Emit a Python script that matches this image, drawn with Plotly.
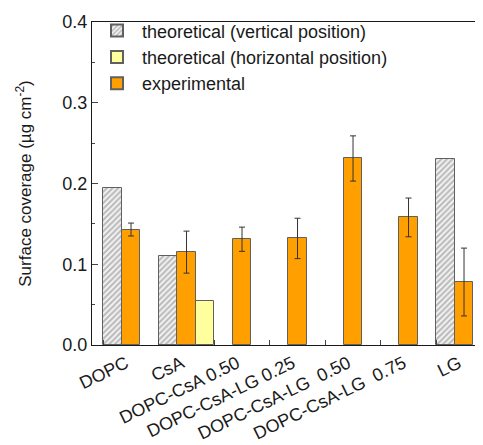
import plotly.graph_objects as go

categories = ["DOPC", "CsA", "DOPC-CsA 0.50", "DOPC-CsA-LG 0.25",
              "DOPC-CsA-LG\u00a0\u00a00.50", "DOPC-CsA-LG\u00a0\u00a00.75", "LG"]
theor_vertical = [0.195, 0.110, None, None, None, None, 0.230]
experimental = [0.143, 0.115, 0.131, 0.132, 0.231, 0.158, 0.078]
experimental_err = [0.008, 0.026, 0.015, 0.025, 0.028, 0.024, 0.042]
theor_horizontal = [None, 0.054, None, None, None, None, None]
y_ticks = [0.0, 0.1, 0.2, 0.3, 0.4]

FONT = "Liberation Sans, Arial, sans-serif"
outline = dict(color="#606060", width=1)

fig = go.Figure()
fig.add_trace(go.Bar(
    x=categories, y=theor_vertical, name="theoretical (vertical position)",
    marker=dict(color="#ffffff", line=outline,
                pattern=dict(shape="/", fgcolor="#808080", bgcolor="#f8f8f8",
                             size=4, solidity=0.55)),
    legendrank=1,
))
fig.add_trace(go.Bar(
    x=categories, y=experimental, name="experimental",
    marker=dict(color="#FF9F00", line=outline),
    error_y=dict(type="data", array=experimental_err, color="#333333",
                 thickness=1, width=3),
    legendrank=3,
))
fig.add_trace(go.Bar(
    x=categories, y=theor_horizontal, name="theoretical (horizontal position)",
    marker=dict(color="#FFFF9E", line=outline),
    legendrank=2,
))

# the page body adds an 8px margin, so the figure is sized to fit the window
fig.update_layout(
    width=475, height=437,
    margin=dict(l=84, r=0, t=14, b=100, autoexpand=False),
    barmode="group", bargap=0, bargroupgap=0,
    plot_bgcolor="white", paper_bgcolor="white",
    font=dict(family=FONT, size=15, color="#1a1a1a"),
    showlegend=True,
    legend=dict(x=0.0, y=1.03, xanchor="left", yanchor="top",
                traceorder="normal", bgcolor="rgba(0,0,0,0)",
                font=dict(size=18), itemwidth=40, tracegroupgap=0,
                itemsizing="constant"),
)
fig.update_xaxes(
    range=[-0.703, 6.342], showline=True, linecolor="#1a1a1a", linewidth=1.2,
    mirror=True, ticks="inside", ticklen=5, tickson="boundaries",
    tickangle=-26, tickfont=dict(size=18), ticklabelshift=-5,
    showgrid=False, automargin=False,
)
fig.update_yaxes(
    range=[0, 0.4], tickvals=y_ticks, tickformat=".1f",
    showline=True, linecolor="#1a1a1a", linewidth=1.2, mirror=False,
    ticks="inside", ticklen=6, tickfont=dict(size=18),
    minor=dict(ticks="inside", ticklen=3, dtick=0.05, tick0=0),
    showgrid=False, zeroline=False, automargin=False,
    title=dict(text="Surface coverage (\u00b5g cm<sup>-2</sup>)",
               font=dict(size=17), standoff=26),
)

fig.write_html("out.html")
